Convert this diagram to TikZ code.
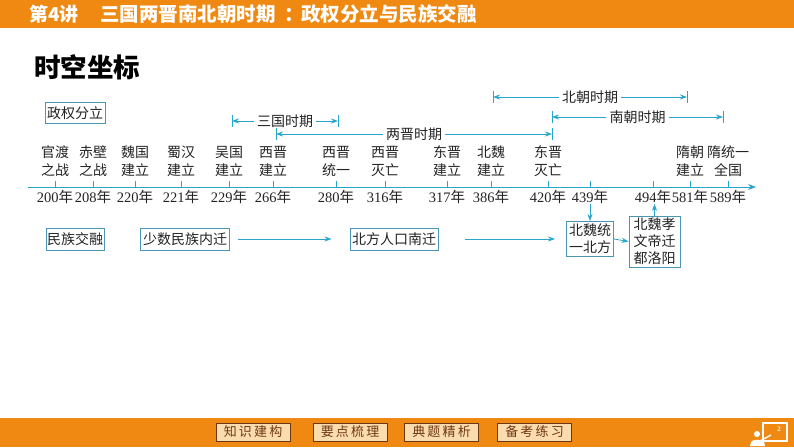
\documentclass[tikz,border=0pt]{standalone}
\usepackage{fontspec}
\setmainfont{Liberation Serif}
\newfontfamily\cjk{Noto Sans CJK SC}
\usetikzlibrary{arrows.meta,positioning,calc}

\definecolor{barorange}{RGB}{239,137,17}
\definecolor{axiscyan}{RGB}{40,165,205}
\definecolor{boxblue}{RGB}{75,150,180}
\definecolor{btnfill}{RGB}{251,220,175}
\definecolor{btnedge}{RGB}{110,55,20}
\definecolor{ink}{RGB}{35,35,35}

\newcommand{\nian}{{\cjk 年}}

\tikzset{
  evtlabel/.style={align=center, inner sep=0pt, text=ink, font=\cjk\fontsize{14}{18}\selectfont},
  yearlabel/.style={inner sep=0pt, text=ink, font=\fontsize{14.5}{16}\selectfont},
  tagbox/.style={draw=boxblue, line width=0.9pt, inner sep=1pt, align=center, text=ink, font=\cjk\fontsize{14}{17}\selectfont},
  periodlabel/.style={inner sep=3pt, text=ink, font=\cjk\fontsize{14}{16}\selectfont},
  flowarrow/.style={axiscyan, line width=0.8pt, -{Stealth[length=7pt,width=5pt]}},
  navbtn/.style={fill=btnfill, draw=btnedge, line width=0.6pt, minimum width=74pt, minimum height=18pt, inner sep=0pt, text=btnedge, font=\cjk\fontsize{13}{13}\selectfont}
}

\begin{document}
\begin{tikzpicture}[x=1pt, y=-1pt]
  \useasboundingbox (0,0) rectangle (794,447);

  % Header and footer bars
  \fill[barorange] (0,0) rectangle (794,28);
  \fill[barorange] (0,418) rectangle (794,447);
  \node[anchor=west, inner sep=0pt, text=white, font=\cjk\bfseries\fontsize{19}{20}\selectfont] (lecture) at (29,14) {第4讲};
  \node[anchor=west, inner sep=0pt, text=white, font=\cjk\bfseries\fontsize{19.5}{20}\selectfont] (title) at (100,14) {三国两晋南北朝时期\hspace{9pt}：\hspace{-3pt}政权分立与民族交融};
  \node[anchor=west, inner sep=0pt, text=black, font=\cjk\bfseries\fontsize{26.5}{27}\selectfont] (heading) at (34,67) {时空坐标};

  % Time axis
  \coordinate (axL) at (28,187);
  \coordinate (axR) at (756,187);
  \draw[axiscyan, line width=1pt, -{Stealth[length=8pt,width=6pt]}] (axL) -- (axR);

  % Ticks, years and events
  \foreach \x/\yr/\top/\bot [count=\i] in {
      55/200/官渡/之战, 93/208/赤壁/之战, 135/220/魏国/建立, 181/221/蜀汉/建立,
      229/229/吴国/建立, 273/266/西晋/建立, 336/280/西晋/统一, 385/316/西晋/灭亡,
      447/317/东晋/建立, 491/386/北魏/建立, 548/420/东晋/灭亡, 590/439/{}/{},
      653/494/{}/{}, 690/581/隋朝/建立, 728/589/隋统一/全国} {
    \coordinate (t\i) at (\x,187);
    \draw[axiscyan, line width=0.8pt] (t\i) -- ++(0,-6);
    \node[yearlabel] (yr\i) at (\x,197) {\yr\nian};
    \node[evtlabel] (ev\i) at (\x,161) {\top\\\bot};
  }

  % Periods
  \foreach \nm/\l/\r/\y/\txt in {sg/232/338/121/三国时期, lj/276/552/134/两晋时期,
      bc/493/687/97/北朝时期, nc/552/723/117/南朝时期} {
    \coordinate (\nm L) at (\l,\y);
    \coordinate (\nm R) at (\r,\y);
    \node[periodlabel] (\nm) at ($(\nm L)!0.5!(\nm R)$) {\txt};
    \draw[flowarrow] (\nm.west) -- (\nm L);
    \draw[flowarrow] (\nm.east) -- (\nm R);
    \draw[axiscyan, line width=0.8pt] ([yshift=6pt]\nm L) -- ([yshift=-6pt]\nm L);
    \draw[axiscyan, line width=0.8pt] ([yshift=6pt]\nm R) -- ([yshift=-6pt]\nm R);
  }

  % Boxes
  \node[tagbox, minimum width=60pt, minimum height=21pt] (zq) at (75,113) {政权分立};
  \node[tagbox, minimum width=58pt, minimum height=22pt] (mz) at (75,239) {民族交融};
  \node[tagbox, minimum width=89pt, minimum height=22pt] (ss) at (185,239) {少数民族内迁};
  \node[tagbox, minimum width=88pt, minimum height=22pt] (bf) at (394,239) {北方人口南迁};
  \node[tagbox, minimum width=47pt, minimum height=35pt] (bw) at (590,239) {北魏统\\一北方};
  \node[tagbox, minimum width=51pt, minimum height=51pt] (xw) at (654.5,241.5) {北魏孝\\文帝迁\\都洛阳};

  % Flow arrows
  \draw[flowarrow] ([xshift=8pt]ss.east) -- ([xshift=-18pt]bf.west);
  \draw[flowarrow] ([xshift=27pt]bf.east) -- ([xshift=-11pt]bw.west);
  \draw[flowarrow] (bw.east) -- (xw.west);
  \draw[flowarrow] (yr12.south) -- (bw.north);
  \draw[flowarrow] (xw.north) -- (xw.north |- yr13.south);

  % Footer buttons
  \foreach \cx/\lbl/\nm in {253/知\,识\,建\,构/b1, 350/要\,点\,梳\,理/b2,
      441.5/典\,题\,精\,析/b3, 534.5/备\,考\,练\,习/b4} {
    \node[navbtn] (\nm) at (\cx,432) {\lbl};
  }

  % Teacher icon
  \draw[white, line width=1.2pt] (763,423) rectangle (787,441);
  \node[text=white, inner sep=0pt, font=\bfseries\fontsize{7}{7}\selectfont] (sq) at (779,429) {2};
  \fill[white] (757,434) circle (3);
  \fill[white] (750,446) -- (751,442) .. controls (752,439) and (762,439) .. (764,442) -- (765,446) -- cycle;
  \draw[white, line width=1.4pt] (760,441) -- (771,435);
\end{tikzpicture}
\end{document}
